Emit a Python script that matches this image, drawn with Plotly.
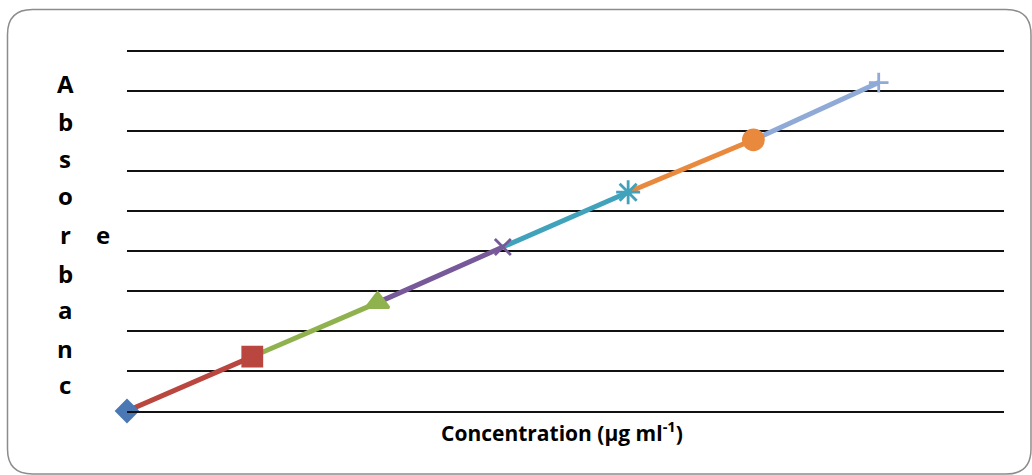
import plotly.graph_objects as go

# Calibration data
concentration = [0, 5, 10, 15, 20, 25, 30]
absorbance = [0.0, 0.136, 0.271, 0.410, 0.547, 0.678, 0.821]
point_colors = ["#4A78B4", "#B9463F", "#8FB24E", "#77599A", "#41A2BC", "#E8893D", "#8FAAD6"]
point_symbols = ["diamond", "square", "triangle-up", "x-thin-open", "asterisk-open", "circle", "cross-thin-open"]
point_sizes = [16, 19, 20, 16, 20, 20, 14]
y_title = "Absorbance"
x_title = "Concentration (µg ml<sup>-1</sup>)"

W, H = 1032, 475
L, R, T, B = 127, 28, 49, 64
PW, PH = W - L - R, H - T - B
FONT = "Open Sans"


def px(x):
    return (x - L) / PW


def py(y):
    return (H - B - y) / PH


fig = go.Figure()

# each segment is coloured like the point it ends on
for i in range(1, len(concentration)):
    fig.add_trace(go.Scatter(
        x=concentration[i - 1:i + 1], y=absorbance[i - 1:i + 1], mode="lines",
        line=dict(color=point_colors[i], width=5), showlegend=False,
        hoverinfo="skip", cliponaxis=False))

fig.add_trace(go.Scatter(
    x=concentration, y=absorbance, mode="markers", showlegend=False,
    cliponaxis=False,
    marker=dict(symbol=point_symbols, color=point_colors, size=point_sizes, opacity=1,
                line=dict(color=point_colors, width=2.8))))

# stacked axis title letters
annotations = []
letters = list(y_title)
col_baselines = [91.7, 130, 166.7, 204, 243, 281.7, 318.3, 356.7, 393.3]
fs = 24
for ch, base in zip(letters[:9], col_baselines):
    annotations.append(dict(x=px(65), y=py(base - 0.36 * fs), xref="paper", yref="paper",
                            text=ch, showarrow=False, xanchor="center", yanchor="middle",
                            font=dict(family=FONT, size=fs, color="black", weight="bold")))
annotations.append(dict(x=px(103.3), y=py(243 - 0.36 * fs), xref="paper", yref="paper",
                        text=letters[9], showarrow=False, xanchor="center", yanchor="middle",
                        font=dict(family=FONT, size=fs, color="black", weight="bold")))
annotations.append(dict(x=px(562), y=py(431), xref="paper", yref="paper",
                        text=x_title, showarrow=False, xanchor="center", yanchor="middle",
                        font=dict(family=FONT, size=21, color="black", weight="bold")))

# rounded chart frame
x0, y0, x1, y1, r = 7.5, 9.5, 1031, 474, 25
path = (f"M {px(x0 + r)},{py(y0)} L {px(x1 - r)},{py(y0)} "
        f"Q {px(x1)},{py(y0)} {px(x1)},{py(y0 + r)} L {px(x1)},{py(y1 - r)} "
        f"Q {px(x1)},{py(y1)} {px(x1 - r)},{py(y1)} L {px(x0 + r)},{py(y1)} "
        f"Q {px(x0)},{py(y1)} {px(x0)},{py(y1 - r)} L {px(x0)},{py(y0 + r)} "
        f"Q {px(x0)},{py(y0)} {px(x0 + r)},{py(y0)} Z")

fig.update_layout(
    width=W, height=H,
    margin=dict(l=L, r=R, t=T, b=B),
    paper_bgcolor="white", plot_bgcolor="white",
    annotations=annotations,
    shapes=[dict(type="path", path=path, xref="paper", yref="paper",
                 line=dict(color="#8C8C8C", width=1.5), layer="below")],
    xaxis=dict(range=[0, 35], showticklabels=False, ticks="", showgrid=False,
               zeroline=False, showline=True, linecolor="#111111", linewidth=1.5),
    yaxis=dict(range=[0, 0.905], tickvals=[i / 10 for i in range(10)],
               showticklabels=False, ticks="", showgrid=True, gridcolor="#111111",
               gridwidth=1.5, zeroline=False, showline=False),
)

fig.write_html("out.html")
